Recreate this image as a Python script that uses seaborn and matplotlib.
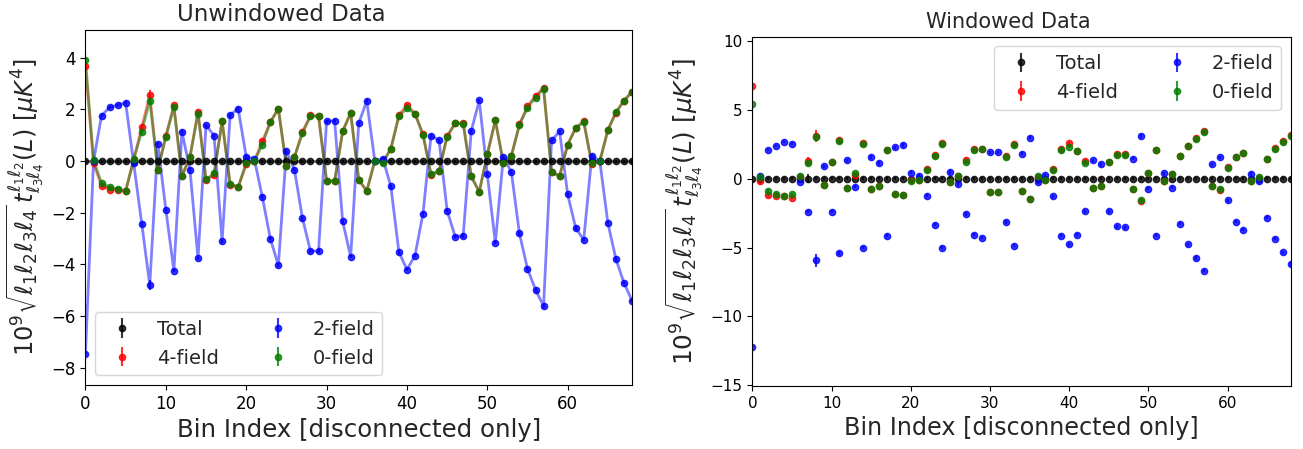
import numpy as np
import matplotlib
matplotlib.use("Agg")
import matplotlib.pyplot as plt
import seaborn as sns

sns.set_style("ticks", {"axes.edgecolor": "black", "xtick.color": "black", "ytick.color": "black"})
plt.rcParams['font.family'] = ['DejaVu Sans']
plt.rcParams['mathtext.fontset'] = 'dejavusans'

# bin index (disconnected bins only)
bins = np.arange(69)

# --- unwindowed data ---
unw_total = [0.0] * 69
unw_4field = [3.67, -0.09, -0.95, -1.1, -1.12, -1.17, 0.05, 1.31, 2.55, -0.33,
              0.98, 2.16, -0.58, 0.14, 1.92, -0.72, -0.54, 1.56, -0.91, -1.01,
              -0.13, -0.01, 0.76, 1.51, 2.03, -0.2, 0.16, 1.13, 1.78, 1.74,
              -0.76, -0.79, 1.15, 1.88, -0.72, -1.16, 0.0, -0.05, 0.48, 1.78,
              2.17, 1.84, 1.03, -0.53, -0.39, 0.97, 1.46, 1.47, -0.59, -1.19,
              0.26, 1.58, -0.06, 0.21, 1.42, 2.13, 2.52, 2.84, -0.42, -0.58,
              0.64, 1.28, 1.54, -0.13, -0.01, 1.20, 1.86, 2.34, 2.68]
unw_2field = [-7.45, 0.0, 1.76, 2.08, 2.17, 2.26, -0.09, -2.42, -4.8, 0.67,
              -1.88, -4.24, 1.14, -0.33, -3.76, 1.39, 0.99, -3.10, 1.78, 2.03,
              0.17, 0.09, -1.38, -3.0, -4.04, 0.39, -0.33, -2.21, -3.49, -3.48,
              1.54, 1.56, -2.33, -3.70, 1.46, 2.33, 0.01, 0.10, -0.98, -3.52,
              -4.20, -3.66, -2.03, 0.99, 0.80, -1.92, -2.92, -2.90, 1.16, 2.35,
              -0.51, -3.16, 0.17, -0.43, -2.80, -4.17, -4.98, -5.61, 0.80, 1.15,
              -1.29, -2.59, -3.05, 0.20, 0.0, -2.39, -3.79, -4.71, -5.40]
unw_0field = [3.93, 0.04, -0.85, -1.0, -1.08, -1.14, 0.07, 1.14, 2.33, -0.35,
              0.93, 2.08, -0.58, 0.17, 1.84, -0.71, -0.48, 1.54, -0.89, -1.0,
              -0.07, -0.01, 0.64, 1.50, 2.03, -0.20, 0.16, 1.08, 1.74, 1.74,
              -0.76, -0.76, 1.15, 1.86, -0.72, -1.16, 0.01, -0.07, 0.48, 1.73,
              2.04, 1.84, 1.01, -0.51, -0.39, 0.95, 1.46, 1.45, -0.59, -1.19,
              0.26, 1.58, -0.09, 0.21, 1.40, 2.07, 2.46, 2.80, -0.42, -0.58,
              0.64, 1.28, 1.52, -0.09, -0.01, 1.20, 1.90, 2.34, 2.68]
unw_err_total = [0.65] + [0.06] * 68
unw_err_4field = [0.55, 0.08, 0.05, 0.05, 0.05, 0.05, 0.05, 0.12, 0.22] + [0.06] * 60
unw_err_2field = [0.7, 0.05, 0.05, 0.05, 0.05, 0.05, 0.05, 0.08, 0.2] + [0.06] * 60
unw_err_0field = [0.3, 0.05, 0.05, 0.05, 0.05, 0.05, 0.05, 0.08, 0.15] + [0.05] * 60

# --- windowed data ---
win_total = [0.0] * 69
win_4field = [6.7, -0.15, -1.16, -1.26, -1.28, -1.4, 0.15, 1.30, 3.09, -0.43,
              1.21, 2.8, -0.65, 0.24, 2.6, -0.77, -0.56, 2.08, -1.11, -1.21,
              -0.1, -0.1, 0.7, 1.72, 2.55, -0.24, 0.17, 1.37, 2.12, 2.15,
              -0.94, -0.94, 1.65, 2.5, -0.92, -1.47, 0.1, -0.10, 0.72, 2.15,
              2.56, 2.03, 1.30, -0.65, -0.53, 1.18, 1.79, 1.79, -0.72, -1.6,
              0.39, 2.08, -0.14, 0.31, 1.67, 2.4, 2.95, 3.42, -0.55, -0.85,
              0.84, 1.6, 1.84, -0.2, 0.05, 1.43, 2.2, 2.7, 3.2]
win_2field = [-12.2, 0.17, 2.08, 2.37, 2.66, 2.54, -0.24, -2.39, -5.94, 0.89,
              -2.39, -5.39, 1.33, -0.58, -5.0, 1.57, 1.14, -4.15, 2.27, 2.44,
              0.43, 0.19, -1.23, -3.33, -5.0, 0.48, -0.41, -2.56, -4.06, -4.28,
              1.91, 1.91, -3.14, -4.86, 1.81, 2.97, -0.27, 0.24, -1.28, -4.15,
              -4.76, -4.06, -2.37, 1.33, 1.04, -2.37, -3.45, -3.53, 1.45, 3.09,
              -0.72, -4.13, 0.39, -0.65, -3.26, -4.76, -5.75, -6.67, 1.04, 1.55,
              -1.57, -3.12, -3.70, 0.34, -0.19, -2.83, -4.35, -5.34, -6.23]
win_0field = [5.43, 0.1, -0.87, -1.09, -1.28, -1.14, 0.19, 1.14, 3.0, -0.43,
              1.21, 2.71, -0.65, 0.39, 2.49, -0.72, -0.56, 2.08, -1.11, -1.21,
              -0.19, -0.07, 0.65, 1.67, 2.49, -0.24, 0.17, 1.23, 2.05, 2.15,
              -0.94, -0.94, 1.59, 2.44, -0.92, -1.47, 0.17, -0.10, 0.63, 2.08,
              2.32, 2.03, 1.16, -0.65, -0.53, 1.18, 1.74, 1.74, -0.72, -1.52,
              0.39, 2.08, -0.14, 0.31, 1.64, 2.37, 2.87, 3.36, -0.51, -0.77,
              0.80, 1.55, 1.84, -0.14, 0.1, 1.43, 2.17, 2.66, 3.09]
win_err_total = [1.6, 0.1, 0.1, 0.1, 0.1, 0.1, 0.1, 0.3] + [0.1] * 61
win_err_4field = [2.4, 0.3, 0.2, 0.1, 0.1, 0.1, 0.1, 0.3, 0.45] + [0.12] * 60
win_err_2field = [1.7, 0.1, 0.1, 0.1, 0.1, 0.1, 0.1, 0.1, 0.5] + [0.12] * 60
win_err_0field = [1.2, 0.1, 0.1, 0.1, 0.1, 0.1, 0.1, 0.2, 0.3] + [0.1] * 60

labels = ['Total', '4-field', '2-field', '0-field']
colors = ['k', 'r', 'b', 'g']
ylabel = r'$10^9\sqrt{\ell_1\ell_2\ell_3\ell_4}\,t^{\ell_1\ell_2}_{\ell_3\ell_4}(L)$ [$\mu K^4$]'

fig = plt.figure(figsize=(13.03, 4.49), dpi=100)
ax1 = fig.add_axes([0.0656, 0.1425, 0.4194, 0.7915])
ax2 = fig.add_axes([0.5774, 0.1403, 0.4134, 0.7780])

# Unwindowed: points with error bars and connecting lines
unw = [unw_total, unw_4field, unw_2field, unw_0field]
unw_err = [unw_err_total, unw_err_4field, unw_err_2field, unw_err_0field]
for vals, err, c, lab in zip(unw, unw_err, colors, labels):
    sns.lineplot(x=bins, y=vals, color=c, alpha=0.5, lw=2, ax=ax1)
    ax1.errorbar(bins, vals, yerr=err, fmt='o', ms=4.5, color=c, alpha=0.8, label=lab)
ax1.set_xlim(0, 68)
ax1.set_ylim(-8.67, 5.09)
ax1.set_title('Unwindowed Data', fontsize=16.5, x=0.358)
ax1.set_xlabel('Bin Index [disconnected only]', fontsize=17.6)
ax1.set_ylabel(ylabel, fontsize=17.3)
ax1.tick_params(labelsize=12)
ax1.legend(loc='lower left', ncol=2, fontsize=14)

# Windowed: points only
win = [win_total, win_4field, win_2field, win_0field]
win_err = [win_err_total, win_err_4field, win_err_2field, win_err_0field]
for vals, err, c, lab in zip(win, win_err, colors, labels):
    ax2.errorbar(bins, vals, yerr=err, fmt='o', ms=4.5, color=c, alpha=0.8, label=lab)
ax2.set_xlim(0, 68)
ax2.set_ylim(-15.05, 10.3)
ax2.set_title('Windowed Data', fontsize=15, x=0.475)
ax2.set_xlabel('Bin Index [disconnected only]', fontsize=17.2)
ax2.set_ylabel(ylabel, fontsize=17.8)
ax2.tick_params(labelsize=11)
ax2.legend(loc='upper right', ncol=2, fontsize=14)

fig.savefig('out.png', dpi=100)
